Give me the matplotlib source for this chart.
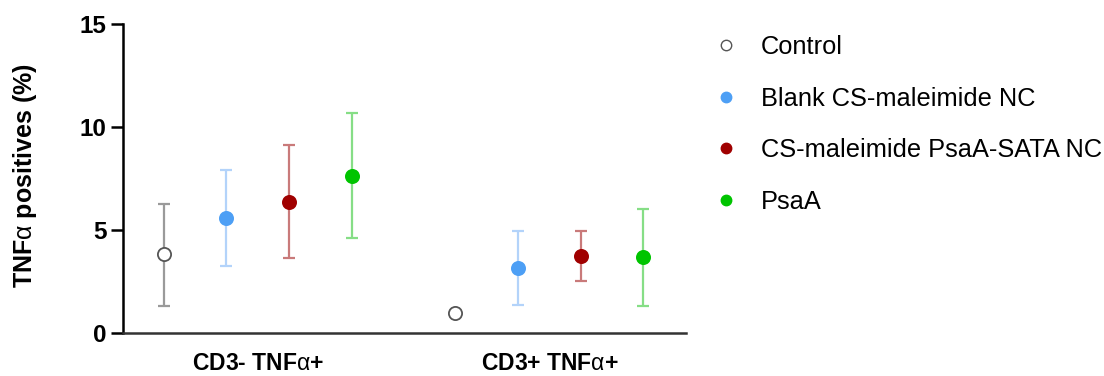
import matplotlib
matplotlib.use("Agg")
import matplotlib.pyplot as plt
from matplotlib.lines import Line2D
import numpy as np

plt.rcParams['font.family'] = ['Liberation Sans', 'DejaVu Sans']
plt.rcParams['mathtext.fontset'] = 'custom'
plt.rcParams['mathtext.rm'] = 'Liberation Sans'
plt.rcParams['mathtext.it'] = 'Liberation Sans:italic'
plt.rcParams['mathtext.bf'] = 'Liberation Sans:bold'

groups = ['CD3- TNF$\\mathrm{\\alpha}$+', 'CD3+ TNF$\\mathrm{\\alpha}$+']
series = ['Control', 'Blank CS-maleimide NC', 'CS-maleimide PsaA-SATA NC', 'PsaA']

means = {
    'Control': [3.83, 0.97],
    'Blank CS-maleimide NC': [5.58, 3.16],
    'CS-maleimide PsaA-SATA NC': [6.36, 3.74],
    'PsaA': [7.62, 3.69],
}
upper = {
    'Control': [6.26, 0.97],
    'Blank CS-maleimide NC': [7.90, 4.95],
    'CS-maleimide PsaA-SATA NC': [9.13, 4.95],
    'PsaA': [10.68, 6.02],
}
lower = {
    'Control': [1.31, 0.97],
    'Blank CS-maleimide NC': [3.25, 1.36],
    'CS-maleimide PsaA-SATA NC': [3.64, 2.52],
    'PsaA': [4.60, 1.31],
}

marker_colors = ['white', '#4d9ff5', '#a00000', '#00c400']
edge_colors = ['#555555', '#4d9ff5', '#a00000', '#00c400']
err_colors = ['#9a9a9a', '#b3d3fa', '#c97a7a', '#86de86']

fig = plt.figure(figsize=(11.04, 3.76), dpi=100)
ax = fig.add_axes([0.1114, 0.1144, 0.51, 0.822])

group_starts = [0, 4.65]
for i, s in enumerate(series):
    xs = [g + i for g in group_starts]
    m = np.array(means[s])
    lo = m - np.array(lower[s])
    hi = np.array(upper[s]) - m
    ax.errorbar(xs, m, yerr=[lo, hi], fmt='none', ecolor=err_colors[i],
                elinewidth=1.6, capsize=4.5, capthick=1.6, zorder=2)
    ax.plot(xs, m, 'o', ms=9.5, mfc=marker_colors[i], mec=edge_colors[i],
            mew=1.3, ls='none', zorder=3)

ax.set_xlim(-0.65, 8.33)
ax.set_ylim(0, 15)
ax.set_yticks([0, 5, 10, 15])
ax.set_xticks([g + 1.5 for g in group_starts])
ax.set_xticklabels(groups, fontsize=16.5, fontweight='bold')
ax.tick_params(axis='x', length=0, pad=14)
ax.tick_params(axis='y', length=9, width=1.8, labelsize=17.5, pad=3)
for lab in ax.get_yticklabels():
    lab.set_fontweight('bold')
ax.set_ylabel('TNF$\\mathrm{\\alpha}$ positives (%)', fontsize=18, fontweight='bold')
ax.yaxis.set_label_coords(-0.15, 0.51)
for sp in ['top', 'right']:
    ax.spines[sp].set_visible(False)
ax.spines['left'].set_linewidth(1.8)
ax.spines['bottom'].set_linewidth(1.8)
ax.spines['bottom'].set_color('#333333')

handles = [Line2D([], [], marker='o', ls='none', ms=7.5, mfc=marker_colors[i],
                  mec=edge_colors[i], mew=1.0) for i in range(len(series))]
fig.legend(handles, series, loc='upper left', bbox_to_anchor=(0.625, 0.967),
           frameon=False, fontsize=18.3, labelspacing=1.08, handletextpad=0.9,
           handlelength=1.0)

fig.savefig('out.png', dpi=100)
